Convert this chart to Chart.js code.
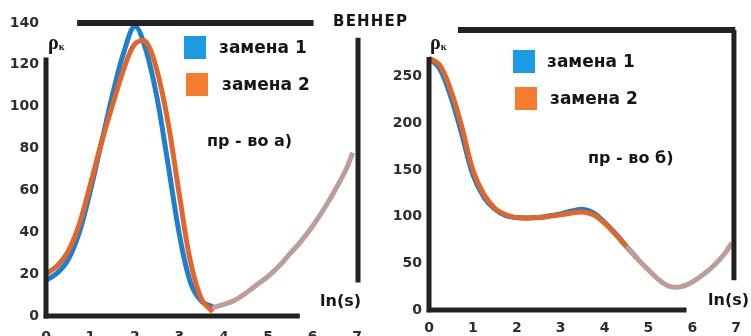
<!DOCTYPE html>
<html>
<head>
<meta charset="utf-8">
<script src="https://cdn.jsdelivr.net/npm/chart.js@4.4.0/dist/chart.umd.min.js"></script>
<style>
  html, body { margin: 0; padding: 0; background: #fff; }
  body { width: 751px; height: 336px; overflow: hidden; position: relative; font-family: "DejaVu Sans", sans-serif; }
  canvas { position: absolute; top: 0; }
  #chart-a { left: 0; }
  #chart-b { left: 375px; }
  .txt { position: absolute; font-weight: bold; color: #161616; white-space: nowrap; line-height: 1; }
  .leg { font-size: 17px; }
  .sq { position: absolute; width: 22px; height: 23px; }
  .rho { position: absolute; font-family: "Liberation Serif", serif; font-weight: bold; font-size: 20px; color: #161616; line-height: 1; }
  .rho sub { font-size: 10px; vertical-align: 0; position: relative; top: 1px; }
</style>
</head>
<body>
<canvas id="chart-a" width="375" height="350"></canvas>
<canvas id="chart-b" width="376" height="350"></canvas>

<div class="txt" style="left:333px; top:14px; font-size:15px; letter-spacing:1.2px;">ВЕННЕР</div>

<div class="rho" style="left:48px; top:32px;">ρ<sub>к</sub></div>
<div class="sq" style="left:184px; top:36px; background:#1a9be4;"></div>
<div class="txt leg" style="left:219px; top:39px;">замена 1</div>
<div class="sq" style="left:186px; top:73px; background:#f47c2c;"></div>
<div class="txt leg" style="left:222px; top:76px;">замена 2</div>
<div class="txt" style="left:207px; top:133px; font-size:16px;">пр - во а)</div>
<div class="txt" style="left:320px; top:293px; font-size:16px;">ln(s)</div>

<div class="rho" style="left:430px; top:32px;">ρ<sub>к</sub></div>
<div class="sq" style="left:513px; top:50px; background:#1a9be4;"></div>
<div class="txt leg" style="left:547px; top:53px;">замена 1</div>
<div class="sq" style="left:515px; top:87px; background:#f47c2c;"></div>
<div class="txt leg" style="left:550px; top:90px;">замена 2</div>
<div class="txt" style="left:588px; top:150px; font-size:16px;">пр - во б)</div>
<div class="txt" style="left:708px; top:292px; font-size:16px;">ln(s)</div>

<script>
// chart a
let xA = [0, 0.25, 0.5, 0.75, 1, 1.25, 1.5, 1.75, 2, 2.25, 2.5, 2.75, 3, 3.25, 3.5, 3.75];
let blueA = [17, 20.5, 27, 40, 60, 83, 106, 126, 138.5, 127, 104, 72, 39, 16, 7, 4.5];
let orangeA = [20, 24, 31, 44, 63, 83, 101, 118, 130, 131, 117, 92, 58, 26, 8, 2];
let xTanA = [3.75, 4, 4.25, 4.5, 4.75, 5, 5.25, 5.5, 5.75, 6, 6.25, 6.5, 6.75, 6.9];
let tanA = [4, 5.5, 7.5, 11, 15, 19, 24, 30, 36, 43, 51, 60, 70, 78];

// chart b
let xB = [0, 0.25, 0.5, 0.75, 1, 1.25, 1.5, 1.75, 2, 2.25, 2.5, 2.75, 3, 3.25, 3.5, 3.75, 4, 4.25, 4.5, 4.75];
let blueB = [270, 258, 228, 188, 145, 121, 108, 101, 99, 98.5, 99, 101, 103, 106, 108, 104, 94, 82, 68, 55];
let orangeB = [270, 262, 235, 196, 150, 124, 109, 102, 99, 98.5, 99, 100.5, 102, 104, 105, 102, 93, 81, 68, 55];
let xTanB = [4.5, 4.75, 5, 5.25, 5.5, 5.75, 6, 6.25, 6.5, 6.75, 6.9];
let tanB = [68, 55, 43, 32, 25, 25, 30, 38, 48, 61, 72];

let xTicks = [0, 1, 2, 3, 4, 5, 6, 7];
let yTicksA = [0, 20, 40, 60, 80, 100, 120, 140];
let yTicksB = [0, 50, 100, 150, 200, 250];

let colors = {
  blue: "#1e7fcf",
  orange: "#e0662b",
  tan: "#bc9e98",
  ink: "#222222",
  tick: "#2e2e2e",
};

function toPoints(xs, ys) {
  return xs.map((x, i) => ({ x: x, y: ys[i] }));
}

// frame lines drawn in data units through the chart's scales
let framePlugin = {
  id: "frame",
  afterDatasetsDraw(chart, args, opts) {
    let ctx = chart.ctx;
    let sx = chart.scales.x;
    let sy = chart.scales.y;
    ctx.save();
    ctx.strokeStyle = colors.ink;
    ctx.lineCap = "butt";
    opts.lines.forEach((l) => {
      ctx.lineWidth = l.w;
      ctx.beginPath();
      ctx.moveTo(sx.getPixelForValue(l.x1), sy.getPixelForValue(l.y1));
      ctx.lineTo(sx.getPixelForValue(l.x2), sy.getPixelForValue(l.y2));
      ctx.stroke();
    });
    ctx.restore();
  },
};

function makeChart(id, sets, yTicks, yMax, axisW, xAxisH, pad, xTickPad, lines) {
  return new Chart(id, {
    type: "line",
    data: {
      datasets: [
        { data: toPoints(sets.tx, sets.tan), borderColor: colors.tan, order: 0 },
        { data: toPoints(sets.x, sets.orange), borderColor: colors.orange, order: 1 },
        { data: toPoints(sets.x, sets.blue), borderColor: colors.blue, order: 2 },
      ],
    },
    options: {
      responsive: false,
      animation: false,
      clip: false,
      layout: { padding: pad },
      elements: {
        line: { borderWidth: 5, tension: 0.35, fill: false, capBezierPoints: true },
        point: { radius: 0 },
      },
      plugins: {
        legend: { display: false },
        tooltip: { enabled: false },
        frame: { lines: lines },
      },
      scales: {
        x: {
          type: "linear",
          min: 0,
          max: 7,
          afterBuildTicks: (s) => { s.ticks = xTicks.map((v) => ({ value: v })); },
          afterFit: (s) => { s.height = xAxisH; },
          ticks: {
            color: colors.tick,
            padding: xTickPad,
            maxRotation: 0,
            font: { family: "DejaVu Sans", size: 14, weight: "bold" },
          },
          grid: { display: false, drawTicks: false },
          border: { display: false },
        },
        y: {
          type: "linear",
          min: 0,
          max: yMax,
          afterBuildTicks: (s) => { s.ticks = yTicks.map((v) => ({ value: v })); },
          afterFit: (s) => { s.width = axisW; },
          ticks: {
            color: colors.tick,
            padding: 7,
            font: { family: "DejaVu Sans", size: 14, weight: "bold" },
          },
          grid: { display: false, drawTicks: false },
          border: { display: false },
        },
      },
    },
    plugins: [framePlugin],
  });
}

let chartA = makeChart(
  "chart-a",
  { x: xA, blue: blueA, orange: orangeA, tx: xTanA, tan: tanA },
  yTicksA, 140, 46, 34, { top: 23, right: 11, left: 0, bottom: 0 }, 13,
  [
    { x1: 0, y1: 123.5, x2: 0, y2: -1.2, w: 5 },
    { x1: -0.05, y1: 0, x2: 5.71, y2: 0, w: 5 },
    { x1: 0.7, y1: 140, x2: 6.02, y2: 140, w: 6 },
    { x1: 7.02, y1: 133, x2: 7.02, y2: 16, w: 5 },
  ]
);

let chartB = makeChart(
  "chart-b",
  { x: xB, blue: blueB, orange: orangeB, tx: xTanB, tan: tanB },
  yTicksB, 300, 54, 40, { top: 30, right: 6, left: 0, bottom: 0 }, 10,
  [
    { x1: 0, y1: 271, x2: 0, y2: -2.5, w: 5 },
    { x1: -0.05, y1: 0, x2: 5.87, y2: 0, w: 5 },
    { x1: 0.66, y1: 300, x2: 6.98, y2: 300, w: 6 },
    { x1: 6.95, y1: 300, x2: 6.95, y2: 32, w: 5 },
  ]
);
</script>
</body>
</html>
